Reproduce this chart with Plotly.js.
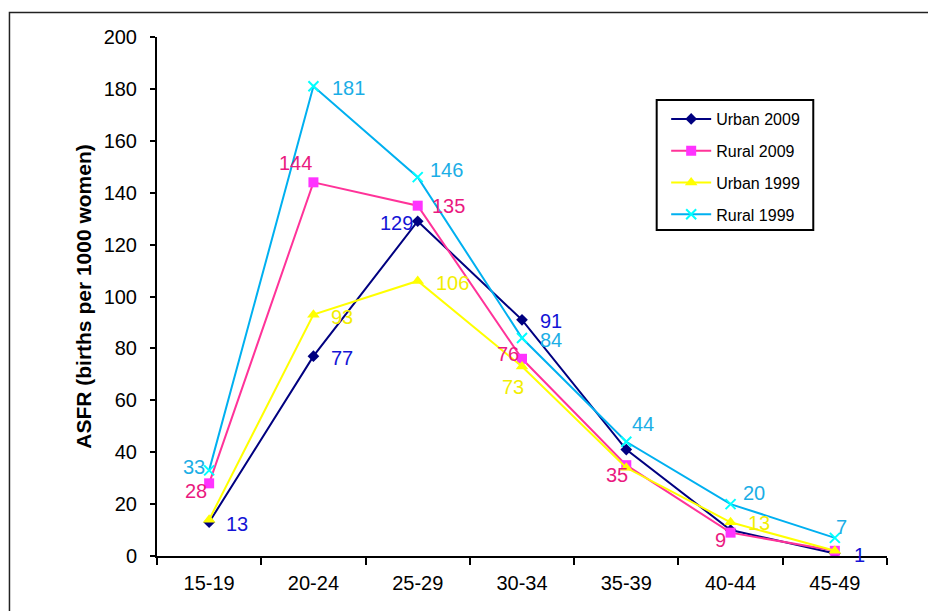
<!DOCTYPE html>
<html>
<head>
<meta charset="utf-8">
<script src="https://cdn.plot.ly/plotly-3.0.1.min.js"></script>
<style>
  html, body { margin: 0; padding: 0; background: #fff; }
  #chart { width: 928px; height: 611px; }
</style>
</head>
<body>
<div id="chart"></div>
<script>
// ---- data ----
var ageGroups = ["15-19", "20-24", "25-29", "30-34", "35-39", "40-44", "45-49"];
var urban2009 = [13, 77, 129, 91, 41, 10, 1];
var rural2009 = [28, 144, 135, 76, 35, 9, 2];
var urban1999 = [14, 93, 106, 73, 34, 13, 2];
var rural1999 = [33, 181, 146, 84, 44, 20, 7];
var seriesNames = ["Urban 2009", "Rural 2009", "Urban 1999", "Rural 1999"];
var yTickVals = [0, 20, 40, 60, 80, 100, 120, 140, 160, 180, 200];
var yTitle = "ASFR (births per 1000 women)";

// ---- styles ----
var FONT = "Liberation Sans, Arial, Helvetica, sans-serif";
var styles = [
  {line: "#000080", marker: {symbol: "diamond", size: 9, color: "#000080"}, label: "#1414D6"},
  {line: "#FF3399", marker: {symbol: "square", size: 10, color: "#FF33FF"}, label: "#EA1A80"},
  {line: "#FFFF00", marker: {symbol: "triangle-up", size: 11, color: "#FFFF00"}, label: "#F2EE00"},
  {line: "#00B0F0", marker: {symbol: "x-thin-open", size: 10, color: "#00FFFF", line: {color: "#00FFFF", width: 2}}, label: "#1AAEE6"}
];
// label offsets in px (dx right, dy down); null = no label drawn
var labelOffsets = [
  [[28, 2], [29, 2], [-21, 2], [29, 1], null, null, [25, 2]],
  [[-13, 8], [-18, -19], [31, 0], [-14, -5], [-9, 10], [-10, 7], null],
  [null, [29, 2], [35, 2], [-9, 20], null, [28, 1], null],
  [[-15, -3], [35, 2], [29, -7], [29, 2], [17, -18], [23, -11], [7, -11]]
];

var allSeries = [urban2009, rural2009, urban1999, rural1999];
var traces = [];
var annotations = [];
allSeries.forEach(function (vals, i) {
  var st = styles[i];
  traces.push({
    type: "scatter",
    mode: "lines+markers",
    name: seriesNames[i],
    legendgroup: "g" + i,
    x: ageGroups,
    y: vals,
    line: {color: st.line, width: 2},
    marker: st.marker,
    hoverinfo: "x+y+name"
  });
  vals.forEach(function (v, j) {
    var off = labelOffsets[i][j];
    if (!off) return;
    annotations.push({
      x: ageGroups[j], y: v, xref: "x", yref: "y",
      text: String(v), showarrow: false,
      xshift: off[0], yshift: -off[1],
      font: {family: FONT, size: 20, color: st.label}
    });
  });
});

var layout = {
  width: 928, height: 611,
  margin: {l: 157, r: 41, t: 37, b: 55, pad: 0},
  paper_bgcolor: "#fff", plot_bgcolor: "#fff",
  font: {family: FONT, size: 20, color: "#000"},
  showlegend: true,
  legend: {
    x: 0.6975, y: 0.8748, xanchor: "left", yanchor: "top",
    borderwidth: 0, bgcolor: "rgba(0,0,0,0)",
    font: {family: FONT, size: 16, color: "#000"},
    traceorder: "grouped", tracegroupgap: 8,
    itemwidth: 40
  },
  xaxis: {
    type: "category", range: [-0.5, 6.5], fixedrange: true,
    showline: true, linecolor: "#000", linewidth: 2,
    ticks: "outside", ticklen: 7, tickwidth: 2, tickcolor: "#000",
    tickson: "boundaries", showgrid: false, zeroline: false,
    tickfont: {family: FONT, size: 20, color: "#000"},
    ticklabelstandoff: 8
  },
  yaxis: {
    range: [0, 200], tickvals: yTickVals, fixedrange: true,
    showline: true, linecolor: "#000", linewidth: 2,
    ticks: "outside", ticklen: 5, tickwidth: 2, tickcolor: "#000",
    showgrid: false, zeroline: false,
    tickfont: {family: FONT, size: 20, color: "#000"},
    ticklabelstandoff: 9,
    title: {text: yTitle, standoff: 6, font: {family: FONT, size: 21, color: "#000", weight: "bold"}}
  },
  annotations: annotations,
  shapes: [
    {
      type: "rect", xref: "paper", yref: "paper",
      x0: -0.2021, x1: 1.2, y0: -0.3, y1: 1.0472,
      line: {color: "#222", width: 1.5}, fillcolor: "rgba(0,0,0,0)", layer: "below"
    },
    {
      type: "rect", xref: "paper", yref: "paper",
      x0: 0.6845, x1: 0.899, y0: 0.6281, y1: 0.8786,
      line: {color: "#000", width: 2}, fillcolor: "#fff", layer: "above"
    }
  ]
};

Plotly.newPlot("chart", traces, layout, {staticPlot: true, displayModeBar: false});
</script>
</body>
</html>
